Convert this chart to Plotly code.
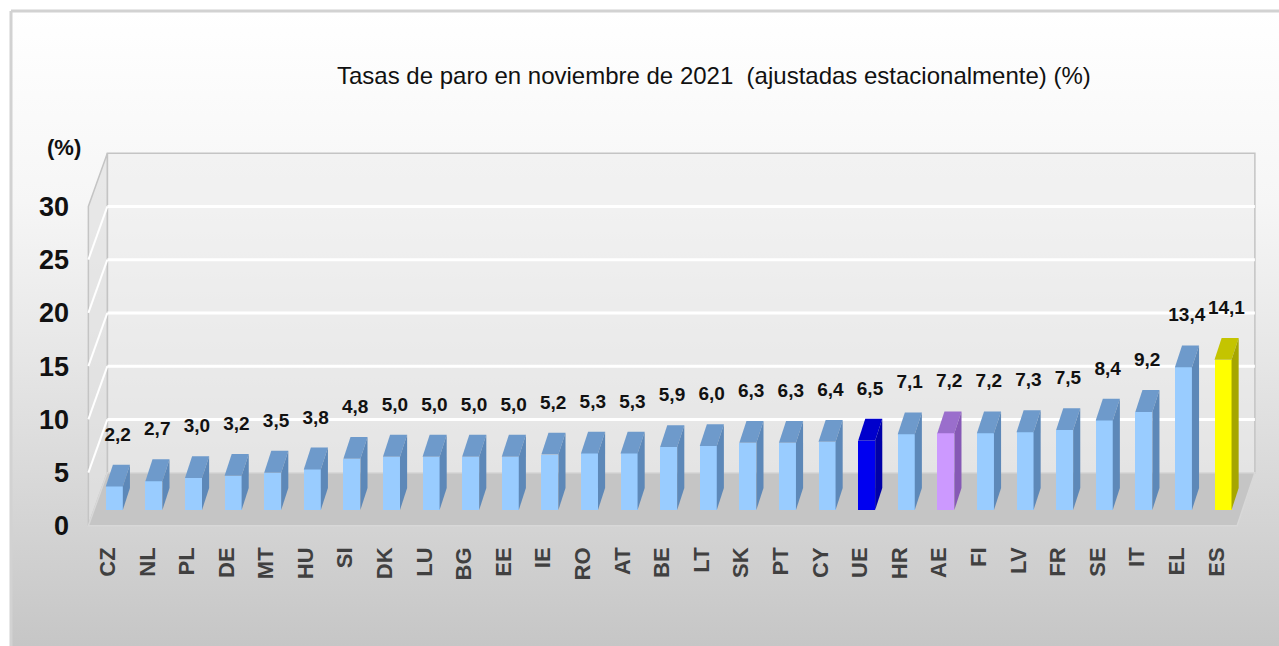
import base64
import plotly.graph_objects as go

# ---------------- data ----------------
countries = ["CZ", "NL", "PL", "DE", "MT", "HU", "SI", "DK", "LU", "BG", "EE", "IE", "RO", "AT", "BE",
             "LT", "SK", "PT", "CY", "UE", "HR", "AE", "FI", "LV", "FR", "SE", "IT", "EL", "ES"]
rates = [2.2, 2.7, 3.0, 3.2, 3.5, 3.8, 4.8, 5.0, 5.0, 5.0, 5.0, 5.2, 5.3, 5.3, 5.9,
         6.0, 6.3, 6.3, 6.4, 6.5, 7.1, 7.2, 7.2, 7.3, 7.5, 8.4, 9.2, 13.4, 14.1]
y_ticks = [0, 5, 10, 15, 20, 25, 30]
title_text = "Tasas de paro en noviembre de 2021  (ajustadas estacionalmente) (%)"
unit_label = "(%)"
highlight = {"UE": "eu", "AE": "ea", "ES": "es"}

# ---------------- styles ----------------
PALETTE = {  # front, top, side
    "default": ("#99CCFF", "#6E9ACB", "#5D88B8"),
    "eu": ("#0000F0", "#0000CC", "#0000A8"),
    "ea": ("#CC99FF", "#9A6ECC", "#8659B5"),
    "es": ("#FFFF00", "#C4C400", "#A6A600"),
}
NUM_FONT = "Liberation Sans Narrow, Arial Narrow, Liberation Sans, Arial, sans-serif"
TXT_FONT = "Liberation Sans, Arial, sans-serif"

W, H = 1279, 646
L, R, T, B = 84, 15, 150, 118
PW, PH = W - L - R, H - T - B
X_RANGE = [-0.6, 29.2]
Y_RANGE = [-0.2, 35.3]

# pseudo-3D geometry (axis units)
BASE = 1.5      # bar front base above floor front edge
FL, FW = -0.05, 0.43   # front face left offset / width
DX, DY = 0.18, 2.05    # bar depth
WALL_FX, WALL_BX = -0.49, -0.01
WALL_RFX, WALL_RBX = 28.52, 28.97
WALL_DY = 5
WALL_TOP = 30
LABEL_GAP = 2.7


def px_x(p):
    return (p - L) / PW


def px_y(p):
    return (H - B - p) / PH


fig = go.Figure()

# background gradient image
svg = ('<svg xmlns="http://www.w3.org/2000/svg" viewBox="0 0 100 100" width="100" height="100" '
       'preserveAspectRatio="none"><defs><linearGradient id="g" x1="0" y1="0" x2="0" y2="1">'
       '<stop offset="0" stop-color="#FFFFFF"/><stop offset="0.3" stop-color="#F6F6F6"/>'
       '<stop offset="0.55" stop-color="#E6E6E6"/><stop offset="1" stop-color="#C6C6C6"/>'
       '</linearGradient></defs><rect width="100" height="100" fill="url(#g)"/></svg>')
src = "data:image/svg+xml;base64," + base64.b64encode(svg.encode()).decode()
fig.add_layout_image(dict(source=src, xref="paper", yref="paper",
                          x=px_x(11), y=px_y(11), sizex=(W - 11) / PW, sizey=(H - 11) / PH,
                          xanchor="left", yanchor="top", sizing="stretch", layer="below"))

shapes = []
# outer frame
shapes.append(dict(type="line", xref="paper", yref="paper", x0=px_x(11), x1=px_x(11),
                   y0=px_y(11), y1=px_y(H), line=dict(color="#D2D2D2", width=3)))
shapes.append(dict(type="line", xref="paper", yref="paper", x0=px_x(11), x1=px_x(W),
                   y0=px_y(11), y1=px_y(11), line=dict(color="#D2D2D2", width=3)))

# back wall
shapes.append(dict(type="rect", x0=WALL_BX, x1=WALL_RBX, y0=WALL_DY, y1=WALL_TOP + WALL_DY,
                   fillcolor="rgba(236,236,236,0.55)", line=dict(color="#C4C4C4", width=1.5),
                   layer="below"))
# left wall
shapes.append(dict(type="path",
                   path=f"M {WALL_FX},0 L {WALL_FX},{WALL_TOP} L {WALL_BX},{WALL_TOP + WALL_DY} "
                        f"L {WALL_BX},{WALL_DY} Z",
                   fillcolor="rgba(225,225,225,0.7)", line=dict(color="#C4C4C4", width=1.5),
                   layer="below"))
# floor
shapes.append(dict(type="path",
                   path=f"M {WALL_FX},0 L {WALL_RFX},0 L {WALL_RBX},{WALL_DY} L {WALL_BX},{WALL_DY} Z",
                   fillcolor="#C5C5C5", line=dict(color="#D8D8D8", width=1.5), layer="below"))
# gridlines (back wall + left wall)
for t in y_ticks[1:-1]:
    shapes.append(dict(type="line", x0=WALL_BX, x1=WALL_RBX, y0=t + WALL_DY, y1=t + WALL_DY,
                       line=dict(color="#FFFFFF", width=3), layer="below"))
    shapes.append(dict(type="line", x0=WALL_FX, x1=WALL_BX, y0=t, y1=t + WALL_DY,
                       line=dict(color="#FFFFFF", width=2), layer="below"))
fig.update_layout(shapes=shapes)

# bars
xs = list(range(len(countries)))
fronts, tops, sides = [], [], []
for c in countries:
    f, tp, sd = PALETTE[highlight.get(c, "default")]
    fronts.append(f)
    tops.append(tp)
    sides.append(sd)

for i, v, tp, sd in zip(xs, rates, tops, sides):
    xl, xr = i + FL, i + FL + FW
    top_y = BASE + v
    fig.add_trace(go.Scatter(
        x=[xl, xr, xr + DX, xl + DX, xl], y=[top_y, top_y, top_y + DY, top_y + DY, top_y],
        fill="toself", fillcolor=tp, mode="lines", line=dict(width=0, color=tp),
        hoverinfo="skip", showlegend=False))
    fig.add_trace(go.Scatter(
        x=[xr, xr, xr + DX, xr + DX, xr], y=[BASE, top_y, top_y + DY, BASE + DY, BASE],
        fill="toself", fillcolor=sd, mode="lines", line=dict(width=0, color=sd),
        hoverinfo="skip", showlegend=False))

fig.add_trace(go.Bar(
    x=[i + FL + FW / 2 for i in xs], y=rates, base=BASE, width=FW,
    marker=dict(color=fronts, line=dict(width=0)), showlegend=False,
    hovertext=countries, hoverinfo="text+y"))

# value labels
fig.add_trace(go.Scatter(
    x=[i + 0.25 for i in xs], y=[v + BASE + DY + LABEL_GAP for v in rates],
    text=[f"{v:.1f}".replace(".", ",") for v in rates], mode="text",
    textfont=dict(family=NUM_FONT, size=19, color="#111111", weight="bold"),
    textposition="middle center", hoverinfo="skip", showlegend=False))

# title and unit label
fig.add_annotation(text=title_text, xref="paper", yref="paper", x=px_x(714), y=px_y(75),
                   xanchor="center", yanchor="middle", showarrow=False,
                   font=dict(family=TXT_FONT, size=24, color="#111111"))
fig.add_annotation(text=unit_label, xref="paper", yref="paper", x=px_x(64), y=px_y(148),
                   xanchor="center", yanchor="middle", showarrow=False,
                   font=dict(family=NUM_FONT, size=22, color="#111111", weight="bold"))

fig.update_layout(
    width=W, height=H,
    margin=dict(l=L, r=R, t=T, b=B, pad=0),
    paper_bgcolor="#FFFFFF", plot_bgcolor="rgba(0,0,0,0)",
    bargap=0,
    xaxis=dict(range=X_RANGE, tickvals=xs, ticktext=countries, tickangle=-90,
               showgrid=False, zeroline=False, showline=False, ticks="",
               ticklabelstandoff=14,
               tickfont=dict(family=TXT_FONT, size=22, color="#404040", weight="bold")),
    yaxis=dict(range=Y_RANGE, tickvals=y_ticks, ticktext=[str(t) for t in y_ticks],
               showgrid=False, zeroline=False, showline=False, ticks="",
               ticklabelstandoff=14,
               tickfont=dict(family=NUM_FONT, size=27, color="#111111", weight="bold")),
)

fig.write_html("out.html", config={"displayModeBar": False},
               post_script="document.body.style.margin='0px';document.body.style.overflow='hidden';")
